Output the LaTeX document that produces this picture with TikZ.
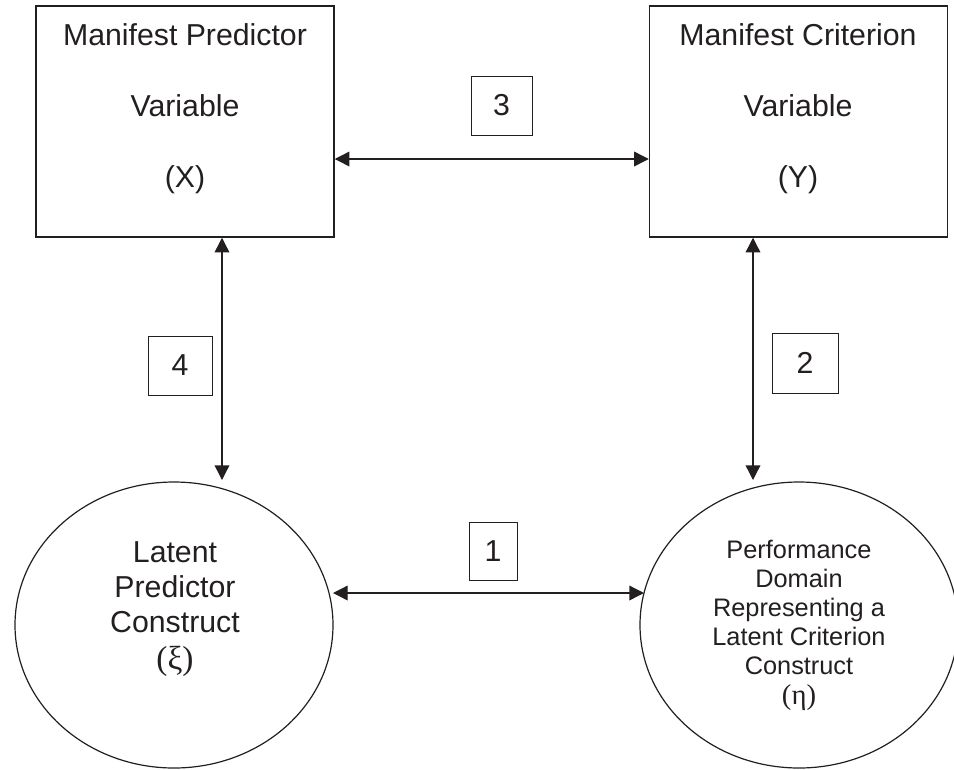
\documentclass[tikz,border=0pt]{standalone}
\usepackage{fontspec}
\setmainfont{Liberation Sans}
\newfontfamily\serifgr{Liberation Serif}
\usetikzlibrary{arrows.meta,shapes.geometric,calc}
\definecolor{ink}{RGB}{35,31,32}
\tikzset{
  bigbox/.style={draw=ink,line width=1.1pt,minimum width=223.5pt,minimum height=173.25pt,inner sep=0pt},
  numbox/.style={draw=ink,line width=0.75pt,inner sep=0pt,text=ink,font=\fontsize{22.7}{27}\selectfont},
  latent/.style={draw=ink,ellipse,line width=0.9pt,minimum width=238.5pt,minimum height=214.5pt,inner sep=0pt,outer sep=0pt},
  boxtext/.style={anchor=north,inner sep=0pt,align=center,text=ink,font=\fontsize{22.7}{53.25}\selectfont},
  ltext/.style={anchor=north,inner sep=0pt,align=center,text=ink,font=\fontsize{22.7}{26.25}\selectfont},
  rtext/.style={anchor=north,inner sep=0pt,align=center,text=ink,font=\fontsize{19}{21.75}\selectfont},
  link/.style={draw=ink,line width=1pt,{Triangle[length=11pt,width=11pt]}-{Triangle[length=11pt,width=11pt]}}
}
\begin{document}
\begin{tikzpicture}[x=0.75pt,y=-0.75pt]
\path[fill=white,use as bounding box] (0,0) rectangle (954,769);
% manifest boxes
\node[bigbox] (lb) at (185,121.5) {};
\node[bigbox] (rb) at (798.5,121.5) {};
\node[boxtext] (lbt) at (185,23) {Manifest Predictor\\Variable\\(X)};
\node[boxtext] (rbt) at (798,23) {Manifest Criterion\\Variable\\(Y)};
% latent ellipses
\node[latent] (le) at (174,625) {};
\node[latent] (re) at (799,625) {};
\node[ltext] (let) at (175,541) {Latent\\Predictor\\Construct\\[2pt]{\serifgr\fontsize{25}{26.25}\selectfont (ξ)}};
\node[rtext] (ret) at (799,539.5) {Performance\\Domain\\Representing a\\Latent Criterion\\Construct\\[1pt]{\serifgr\fontsize{21.5}{21.75}\selectfont (η)}};
% number boxes
\node[numbox,minimum width=45.75pt,minimum height=44.25pt] (n3) at (501.5,105.5) {3};
\node[numbox,minimum width=48pt,minimum height=44.25pt] (n4) at (180,365.5) {4};
\node[numbox,minimum width=49.5pt,minimum height=45pt] (n2) at (805,363) {2};
\node[numbox,minimum width=36pt,minimum height=43.5pt] (n1) at (493,551) {1};
% connectors
\draw[link] ($(lb.east)+(0,37.5)$) -- ($(rb.west)+(0,37.5)$);
\draw[link] ($(lb.south)+(37,0)$) -- ($(le.center)+(48,-145)$);
\draw[link] ($(rb.south)+(-45.5,0)$) -- ($(re.center)+(-46,-145)$);
\draw[link] ($(le.center)+(159,-32)$) -- ($(re.center)+(-155,-32)$);
\end{tikzpicture}
\end{document}
